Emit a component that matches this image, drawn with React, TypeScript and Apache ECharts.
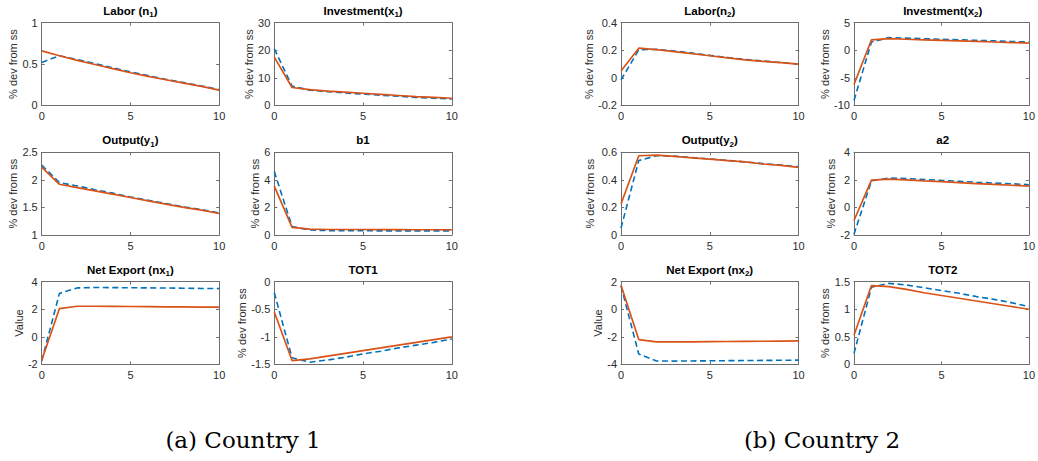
import React, { useEffect, useRef } from "react";
import * as echarts from "echarts";

// ---------- data ----------
const periods = [0, 1, 2, 3, 4, 5, 6, 7, 8, 9, 10];

const labor1Blue = [0.52, 0.6, 0.555, 0.505, 0.455, 0.405, 0.36, 0.315, 0.275, 0.235, 0.19];
const labor1Red = [0.66, 0.6, 0.545, 0.495, 0.445, 0.395, 0.35, 0.31, 0.27, 0.23, 0.185];
const invest1Blue = [20.5, 7.0, 5.5, 5.0, 4.5, 4.1, 3.7, 3.3, 2.9, 2.6, 2.3];
const invest1Red = [17.5, 6.5, 5.7, 5.2, 4.8, 4.4, 4.0, 3.6, 3.2, 2.9, 2.6];
const output1Blue = [2.27, 1.95, 1.89, 1.82, 1.76, 1.69, 1.63, 1.57, 1.51, 1.46, 1.4];
const output1Red = [2.23, 1.92, 1.86, 1.8, 1.74, 1.68, 1.62, 1.56, 1.5, 1.45, 1.39];
const b1Blue = [4.6, 0.62, 0.36, 0.32, 0.31, 0.31, 0.3, 0.3, 0.3, 0.3, 0.3];
const b1Red = [3.55, 0.55, 0.42, 0.4, 0.4, 0.4, 0.39, 0.39, 0.38, 0.38, 0.37];
const nx1Blue = [-1.75, 3.15, 3.55, 3.58, 3.57, 3.56, 3.55, 3.54, 3.53, 3.51, 3.5];
const nx1Red = [-1.7, 2.05, 2.22, 2.22, 2.21, 2.2, 2.19, 2.18, 2.17, 2.16, 2.15];
const tot1Blue = [-0.2, -1.38, -1.46, -1.42, -1.37, -1.31, -1.26, -1.2, -1.15, -1.1, -1.04];
const tot1Red = [-0.55, -1.43, -1.4, -1.35, -1.3, -1.25, -1.2, -1.15, -1.1, -1.05, -1.0];

const labor2Blue = [-0.015, 0.203, 0.207, 0.195, 0.18, 0.163, 0.148, 0.133, 0.122, 0.111, 0.1];
const labor2Red = [0.05, 0.215, 0.205, 0.19, 0.175, 0.16, 0.145, 0.13, 0.12, 0.11, 0.1];
const invest2Blue = [-9.1, 1.5, 2.3, 2.2, 2.1, 2.0, 1.9, 1.8, 1.7, 1.6, 1.5];
const invest2Red = [-6.2, 1.9, 2.1, 2.0, 1.9, 1.8, 1.7, 1.6, 1.5, 1.4, 1.3];
const output2Blue = [0.05, 0.54, 0.575, 0.572, 0.562, 0.552, 0.541, 0.53, 0.518, 0.507, 0.495];
const output2Red = [0.225, 0.575, 0.58, 0.57, 0.56, 0.55, 0.54, 0.53, 0.515, 0.505, 0.49];
const a2Blue = [-1.95, 1.93, 2.13, 2.1, 2.03, 1.96, 1.9, 1.83, 1.77, 1.72, 1.65];
const a2Red = [-0.95, 1.98, 2.05, 2.0, 1.93, 1.87, 1.8, 1.73, 1.67, 1.61, 1.55];
const nx2Blue = [1.7, -3.25, -3.75, -3.76, -3.75, -3.74, -3.73, -3.72, -3.71, -3.7, -3.69];
const nx2Red = [1.75, -2.2, -2.37, -2.37, -2.36, -2.35, -2.34, -2.33, -2.32, -2.31, -2.3];
const tot2Blue = [0.2, 1.4, 1.47, 1.44, 1.39, 1.34, 1.29, 1.23, 1.18, 1.12, 1.05];
const tot2Red = [0.53, 1.43, 1.41, 1.36, 1.3, 1.25, 1.2, 1.15, 1.1, 1.05, 1.0];

const xTicks = { min: 0, max: 10, interval: 5 };

const captions = ["(a) Country 1", "(b) Country 2"];

type Panel = {
  title: [string, string, string];
  yName: string;
  yMin: number;
  yMax: number;
  yInterval: number;
  blue: number[];
  red: number[];
  col: number;
  row: number;
  nameGap: number;
};

const panels: Panel[] = [
  { title: ["Labor (n", "1", ")"], yName: "% dev from ss", yMin: 0, yMax: 1, yInterval: 0.5, blue: labor1Blue, red: labor1Red, col: 0, row: 0, nameGap: 23 },
  { title: ["Investment(x", "1", ")"], yName: "% dev from ss", yMin: 0, yMax: 30, yInterval: 10, blue: invest1Blue, red: invest1Red, col: 1, row: 0, nameGap: 20 },
  { title: ["Output(y", "1", ")"], yName: "% dev from ss", yMin: 1, yMax: 2.5, yInterval: 0.5, blue: output1Blue, red: output1Red, col: 0, row: 1, nameGap: 23 },
  { title: ["b1", "", ""], yName: "% dev from ss", yMin: 0, yMax: 6, yInterval: 2, blue: b1Blue, red: b1Red, col: 1, row: 1, nameGap: 12 },
  { title: ["Net Export (nx", "1", ")"], yName: "Value", yMin: -2, yMax: 4, yInterval: 2, blue: nx1Blue, red: nx1Red, col: 0, row: 2, nameGap: 17 },
  { title: ["TOT1", "", ""], yName: "% dev from ss", yMin: -1.5, yMax: 0, yInterval: 0.5, blue: tot1Blue, red: tot1Red, col: 1, row: 2, nameGap: 26 },
  { title: ["Labor(n", "2", ")"], yName: "% dev from ss", yMin: -0.2, yMax: 0.4, yInterval: 0.2, blue: labor2Blue, red: labor2Red, col: 2, row: 0, nameGap: 26 },
  { title: ["Investment(x", "2", ")"], yName: "% dev from ss", yMin: -10, yMax: 5, yInterval: 5, blue: invest2Blue, red: invest2Red, col: 3, row: 0, nameGap: 23 },
  { title: ["Output(y", "2", ")"], yName: "% dev from ss", yMin: 0, yMax: 0.6, yInterval: 0.2, blue: output2Blue, red: output2Red, col: 2, row: 1, nameGap: 26 },
  { title: ["a2", "", ""], yName: "% dev from ss", yMin: -2, yMax: 4, yInterval: 2, blue: a2Blue, red: a2Red, col: 3, row: 1, nameGap: 18 },
  { title: ["Net Export (nx", "2", ")"], yName: "Value", yMin: -4, yMax: 2, yInterval: 2, blue: nx2Blue, red: nx2Red, col: 2, row: 2, nameGap: 17 },
  { title: ["TOT2", "", ""], yName: "% dev from ss", yMin: 0, yMax: 1.5, yInterval: 0.5, blue: tot2Blue, red: tot2Red, col: 3, row: 2, nameGap: 23 },
];

// ---------- layout ----------
const colLeft = [41.7, 274.3, 621, 854];
const rowTop = [22.7, 152.3, 281.7];
const plotW = 177.5;
const plotH = 82.7;
const captionX = [243, 822];
const captionY = 440;

const BOX = "#6e6e6e";
const TXT = "#2b2b2b";
const BLUE = "#0072BD";
const RED = "#D95319";
const SANS = "Liberation Sans, Arial, Helvetica, sans-serif";
const TITLE_SIZE = 11.5;
const SUB_SIZE = 8;

let measureCtx: CanvasRenderingContext2D | null = null;
function textWidth(text: string, size: number) {
  if (!text) return 0;
  if (!measureCtx) measureCtx = document.createElement("canvas").getContext("2d");
  if (!measureCtx) return text.length * size * 0.6;
  measureCtx.font = `bold ${size}px ${SANS}`;
  return measureCtx.measureText(text).width;
}

function buildOption() {
  const grid: any[] = [];
  const xAxis: any[] = [];
  const yAxis: any[] = [];
  const series: any[] = [];
  const graphic: any[] = [];

  panels.forEach((p, i) => {
    const left = colLeft[p.col];
    const top = rowTop[p.row];
    grid.push({ left, top, width: plotW, height: plotH, containLabel: false });

    const lineStyle = { color: BOX, width: 1 };
    const baseX = {
      type: "value",
      gridIndex: i,
      min: xTicks.min,
      max: xTicks.max,
      interval: xTicks.interval,
      splitLine: { show: false },
      axisLine: { show: true, onZero: false, lineStyle },
      axisTick: { show: true, inside: true, length: 3, lineStyle },
    };
    xAxis.push({
      ...baseX,
      position: "bottom",
      axisLabel: { show: true, margin: 5, color: TXT, fontSize: 11, fontFamily: SANS },
    });
    xAxis.push({ ...baseX, position: "top", axisLabel: { show: false } });

    const baseY = {
      type: "value",
      gridIndex: i,
      min: p.yMin,
      max: p.yMax,
      interval: p.yInterval,
      splitLine: { show: false },
      axisLine: { show: true, onZero: false, lineStyle },
      axisTick: { show: true, inside: true, length: 3, lineStyle },
    };
    yAxis.push({
      ...baseY,
      position: "left",
      name: p.yName,
      nameLocation: "middle",
      nameGap: p.nameGap,
      nameTextStyle: { color: TXT, fontSize: 11, fontFamily: SANS },
      axisLabel: { show: true, margin: 4, color: TXT, fontSize: 11, fontFamily: SANS },
    });
    yAxis.push({ ...baseY, position: "right", axisLabel: { show: false } });

    series.push({
      type: "line",
      xAxisIndex: 2 * i,
      yAxisIndex: 2 * i,
      data: periods.map((t, k) => [t, p.blue[k]]),
      showSymbol: false,
      symbol: "none",
      lineStyle: { color: BLUE, width: 1.6, type: [6, 3.5] },
      z: 2,
    });
    series.push({
      type: "line",
      xAxisIndex: 2 * i,
      yAxisIndex: 2 * i,
      data: periods.map((t, k) => [t, p.red[k]]),
      showSymbol: false,
      symbol: "none",
      lineStyle: { color: RED, width: 1.7 },
      z: 3,
    });

    // title with subscript, built from three text pieces
    const [a, s, b] = p.title;
    const wa = textWidth(a, TITLE_SIZE);
    const ws = textWidth(s, SUB_SIZE);
    const wb = textWidth(b, TITLE_SIZE);
    const total = wa + ws + wb;
    const cx = left + plotW / 2;
    const mainY = top - 12;
    let x0 = cx - total / 2;
    const pieces: [string, number, number][] = [
      [a, TITLE_SIZE, mainY],
      [s, SUB_SIZE, mainY + 4],
      [b, TITLE_SIZE, mainY],
    ];
    const widths = [wa, ws, wb];
    pieces.forEach(([t, size, y], k) => {
      if (t) {
        graphic.push({
          type: "text",
          x: x0,
          y,
          style: {
            text: t,
            align: "left",
            verticalAlign: "middle",
            fontSize: size,
            fontWeight: "bold",
            fontFamily: SANS,
            fill: "#000",
          },
        });
      }
      x0 += widths[k];
    });
  });

  captions.forEach((c, j) => {
    graphic.push({
      type: "text",
      x: captionX[j],
      y: captionY,
      style: {
        text: c,
        align: "center",
        verticalAlign: "middle",
        fontSize: 23,
        fontFamily: "DejaVu Serif, Liberation Serif, serif",
        fill: "#000",
      },
    });
  });

  return {
    animation: false,
    backgroundColor: "#ffffff",
    grid,
    xAxis,
    yAxis,
    series,
    graphic,
  };
}

export default function App() {
  const ref = useRef<HTMLDivElement>(null);
  useEffect(() => {
    if (!ref.current) return;
    const chart = echarts.init(ref.current, undefined, { renderer: "svg" });
    chart.setOption(buildOption() as any);
    return () => chart.dispose();
  }, []);
  return (
    <div
      ref={ref}
      style={{ position: "fixed", left: 0, top: 0, width: 1038, height: 461, background: "#fff" }}
    />
  );
}
